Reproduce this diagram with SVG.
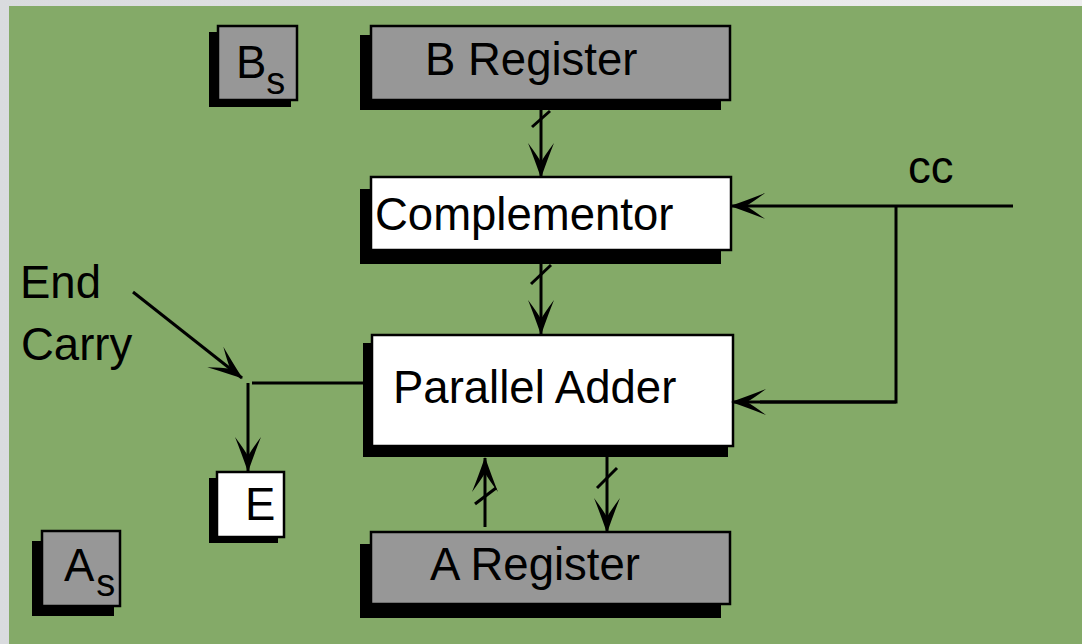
<svg xmlns="http://www.w3.org/2000/svg" width="1082" height="644" viewBox="0 0 1082 644">
  <defs>
    <linearGradient id="frame" x1="0" y1="0" x2="1" y2="0">
      <stop offset="0" stop-color="#d9dbde"/>
      <stop offset="1" stop-color="#eeeeee"/>
    </linearGradient>
    <marker id="head" markerUnits="userSpaceOnUse" markerWidth="36" markerHeight="26" viewBox="0 0 36 26" refX="35" refY="13" orient="auto" overflow="visible">
      <path d="M36,13 Q16,6 1,0 Q13,9 20,13 Q13,17 1,26 Q16,20 36,13 Z" fill="#000"/>
    </marker>
    <style>
      .shadow { fill: #000; }
      .reg { fill: #979797; stroke: #000; stroke-width: 2.5; }
      .unit { fill: #fff; stroke: #000; stroke-width: 2.5; }
      .lbl { font-family: "Liberation Sans", Arial, sans-serif; font-size: 45.5px; fill: #000; }
      .sub { font-size: 38px; }
      .wire { fill: none; stroke: #000; stroke-width: 3; }
      .arrow { fill: none; stroke: #000; stroke-width: 3; marker-end: url(#head); }
      .tick { stroke: #000; stroke-width: 3; }
    </style>
  </defs>

  <!-- page and panel -->
  <rect x="0" y="0" width="1082" height="644" fill="url(#frame)"/>
  <rect x="9" y="6" width="1073" height="638" fill="#84aa68"/>

  <!-- sign bit of B -->
  <g id="bs">
    <rect class="shadow" x="209" y="32" width="82" height="75"/>
    <rect class="reg" x="218" y="26" width="79" height="74"/>
    <text class="lbl" x="236" y="78">B<tspan class="sub" dy="16">s</tspan></text>
  </g>

  <!-- B register -->
  <g id="b-register">
    <rect class="shadow" x="360" y="35" width="361" height="75"/>
    <rect class="reg" x="371" y="26" width="359" height="74"/>
    <text class="lbl" x="425" y="75">B Register</text>
  </g>

  <!-- complementor -->
  <g id="complementor">
    <rect class="shadow" x="360" y="189" width="361" height="75"/>
    <rect class="unit" x="371" y="177" width="360" height="73"/>
    <text class="lbl" x="375" y="230">Complementor</text>
  </g>

  <!-- parallel adder -->
  <g id="parallel-adder">
    <rect class="shadow" x="363" y="343" width="365" height="114"/>
    <rect class="unit" x="372" y="335" width="361" height="111"/>
    <text class="lbl" x="393" y="403">Parallel Adder</text>
  </g>

  <!-- end carry flip-flop -->
  <g id="e">
    <rect class="shadow" x="209" y="478" width="69" height="65"/>
    <rect class="unit" x="217" y="472" width="67" height="65"/>
    <text class="lbl" x="245" y="520">E</text>
  </g>

  <!-- A register -->
  <g id="a-register">
    <rect class="shadow" x="360" y="544" width="361" height="74"/>
    <rect class="reg" x="371" y="532" width="359" height="72"/>
    <text class="lbl" x="430" y="580">A Register</text>
  </g>

  <!-- sign bit of A -->
  <g id="as">
    <rect class="shadow" x="32" y="541" width="82" height="75"/>
    <rect class="reg" x="42" y="531" width="78" height="75"/>
    <text class="lbl" x="64" y="581">A<tspan class="sub" dx="2" dy="15">s</tspan></text>
  </g>

  <!-- free labels -->
  <g id="labels">
    <text class="lbl" x="20" y="298">End</text>
    <text class="lbl" x="21" y="360">Carry</text>
    <text class="lbl" x="908" y="183">cc</text>
  </g>

  <!-- connectors -->
  <g id="connectors">
    <!-- B register to complementor (bus) -->
    <line class="arrow" x1="541" y1="100" x2="541" y2="177"/>
    <line class="tick" x1="532" y1="127" x2="550" y2="111"/>
    <!-- complementor to adder (bus) -->
    <line class="arrow" x1="541" y1="250" x2="541" y2="334"/>
    <line class="tick" x1="531" y1="284" x2="551" y2="265"/>
    <!-- A register into adder (bus) -->
    <line class="arrow" x1="485" y1="527" x2="485" y2="458"/>
    <line class="tick" x1="475" y1="504" x2="496" y2="488"/>
    <!-- adder sum back to A register (bus) -->
    <line class="arrow" x1="607" y1="457" x2="607" y2="532"/>
    <line class="tick" x1="597" y1="488" x2="617" y2="468"/>
    <!-- end carry -->
    <line class="arrow" x1="133" y1="292" x2="242" y2="378"/>
    <line class="wire" x1="252" y1="383" x2="364" y2="383"/>
    <line class="arrow" x1="248" y1="383" x2="248" y2="471"/>
    <!-- complement control cc -->
    <line class="arrow" x1="1013" y1="206" x2="731" y2="206"/>
    <polyline class="wire" points="896,206 896,402 760,402"/>
    <line class="arrow" x1="896" y1="402" x2="732" y2="402"/>
  </g>
</svg>
